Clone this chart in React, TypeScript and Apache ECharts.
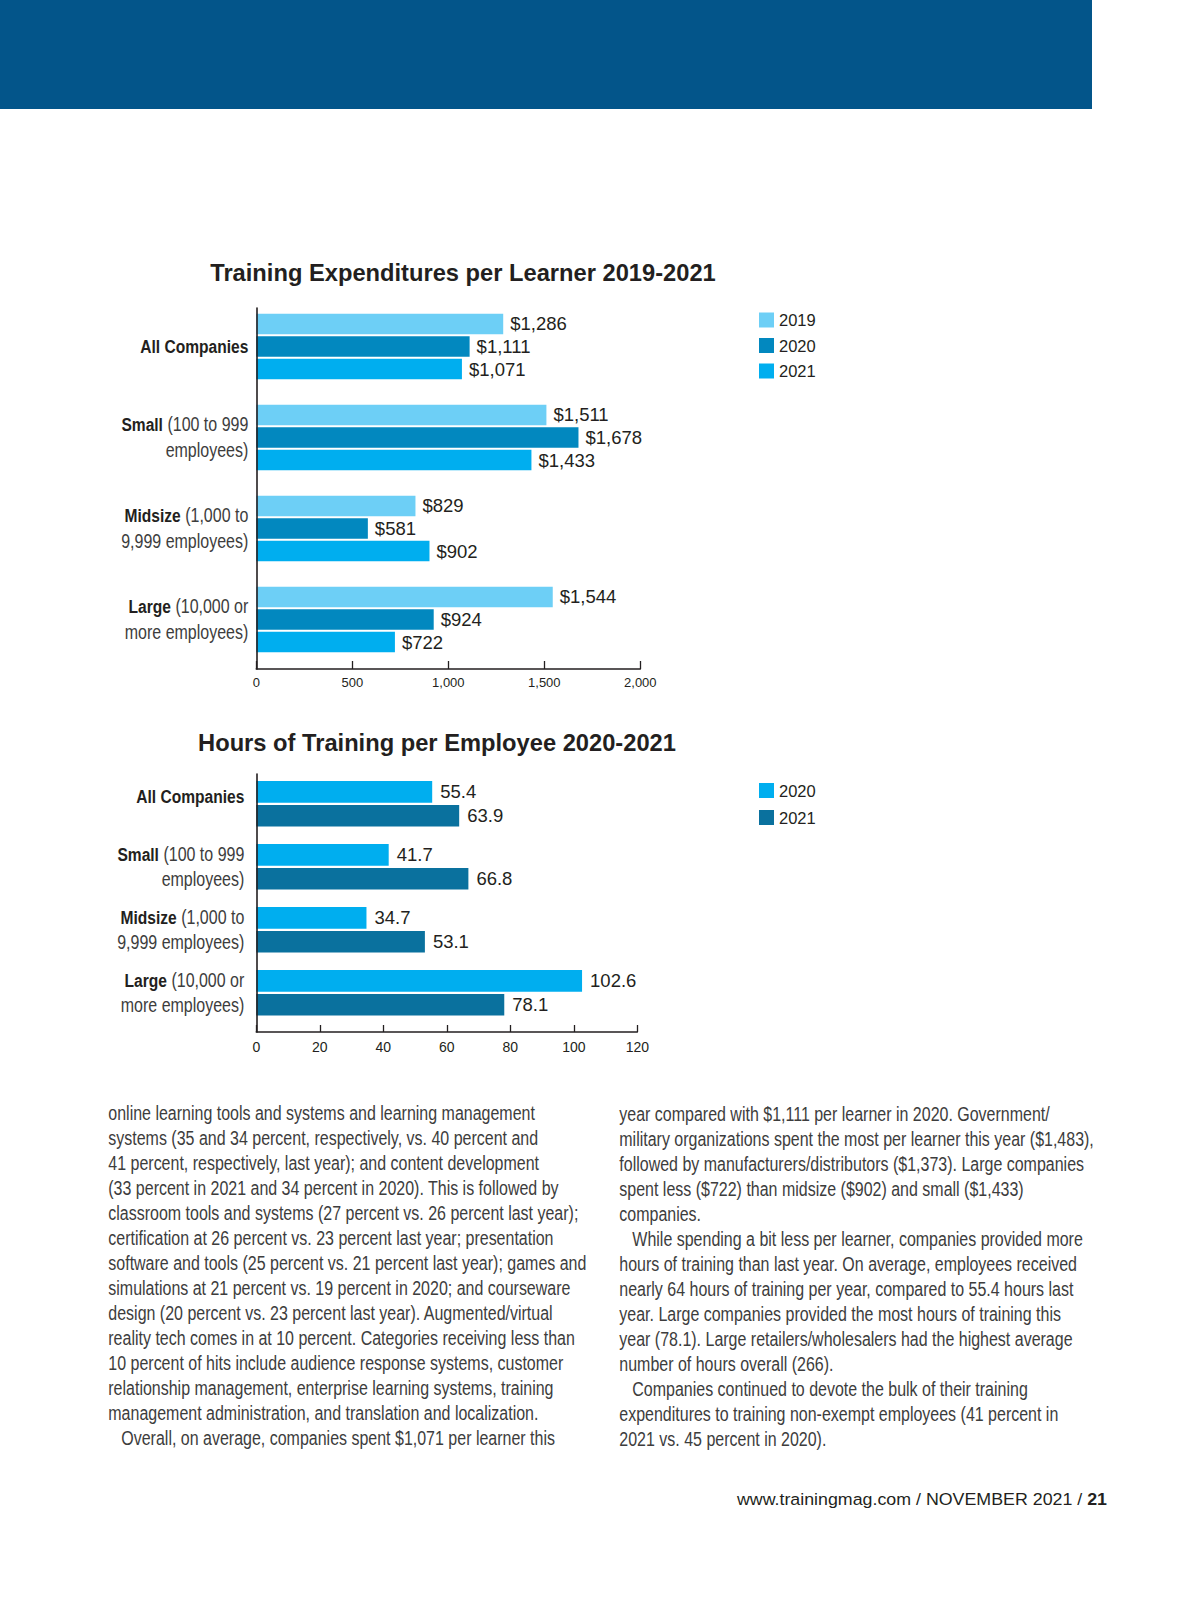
import React, { useEffect, useRef } from 'react';
import * as echarts from 'echarts';

// ---- data ----
const groupNames = ['All Companies', 'Small', 'Midsize', 'Large'];
const groupSizeLine1 = ['', '(100 to 999', '(1,000 to', '(10,000 or'];
const groupSizeLine2 = ['', 'employees)', '9,999 employees)', 'more employees)'];

const spendTitle = 'Training Expenditures per Learner 2019-2021';
const spendYears = ['2019', '2020', '2021'];
const spend2019 = [1286, 1511, 829, 1544];
const spend2020 = [1111, 1678, 581, 924];
const spend2021 = [1071, 1433, 902, 722];
const spendAxis = { min: 0, max: 2000, interval: 500 };

const hoursTitle = 'Hours of Training per Employee 2020-2021';
const hoursYears = ['2020', '2021'];
const hours2020 = [55.4, 41.7, 34.7, 102.6];
const hours2021 = [63.9, 66.8, 53.1, 78.1];
const hoursAxis = { min: 0, max: 120, interval: 20 };

const column1 = [
  'online learning tools and systems and learning management',
  'systems (35 and 34 percent, respectively, vs. 40 percent and',
  '41 percent, respectively, last year); and content development',
  '(33 percent in 2021 and 34 percent in 2020). This is followed by',
  'classroom tools and systems (27 percent vs. 26 percent last year);',
  'certification at 26 percent vs. 23 percent last year; presentation',
  'software and tools (25 percent vs. 21 percent last year); games and',
  'simulations at 21 percent vs. 19 percent in 2020; and courseware',
  'design (20 percent vs. 23 percent last year). Augmented/virtual',
  'reality tech comes in at 10 percent. Categories receiving less than',
  '10 percent of hits include audience response systems, customer',
  'relationship management, enterprise learning systems, training',
  'management administration, and translation and localization.',
  '\tOverall, on average, companies spent $1,071 per learner this',
];
const column2 = [
  'year compared with $1,111 per learner in 2020. Government/',
  'military organizations spent the most per learner this year ($1,483),',
  'followed by manufacturers/distributors ($1,373). Large companies',
  'spent less ($722) than midsize ($902) and small ($1,433)',
  'companies.',
  '\tWhile spending a bit less per learner, companies provided more',
  'hours of training than last year. On average, employees received',
  'nearly 64 hours of training per year, compared to 55.4 hours last',
  'year. Large companies provided the most hours of training this',
  'year (78.1). Large retailers/wholesalers had the highest average',
  'number of hours overall (266).',
  '\tCompanies continued to devote the bulk of their training',
  'expenditures to training non-exempt employees (41 percent in',
  '2021 vs. 45 percent in 2020).',
];
const footerText = 'www.trainingmag.com / NOVEMBER 2021 / ';
const footerPage = '21';

// ---- styles ----
const INK = '#231f20';
const SANS = '"Liberation Sans", Arial, Helvetica, sans-serif';
const NARROW_SCALE = 0.82;
const C2019 = '#6dcff6';
const C2020 = '#0288bf';
const C2021 = '#00aeef';
const CH2021 = '#0a719e';

const withCommas = (v: number) => String(v).replace(/\B(?=(\d{3})+(?!\d))/g, ',');

function catLabelText(index: number) {
  const l1 = groupSizeLine1[index];
  const l2 = groupSizeLine2[index];
  const name = groupNames[index];
  if (!l1) return `{b|${name}}`;
  return `{b|${name}} {l|${l1}}\n{l|${l2}}`;
}

function bodyLines(prefix: string, lines: string[], x: number, y0: number) {
  return lines.map((t, i) => {
    const indent = t.startsWith('\t');
    return {
      id: `${prefix}-${i}`,
      type: 'text',
      x: x + (indent ? 13 : 0),
      y: y0 + i * 25,
      scaleX: NARROW_SCALE,
      silent: true,
      style: {
        text: indent ? t.slice(1) : t,
        fontFamily: SANS,
        fontSize: 19.5,
        fill: '#3d3d3d',
        verticalAlign: 'middle',
        align: 'left',
      },
    };
  });
}

export default function App() {
  const ref = useRef<HTMLDivElement>(null);
  useEffect(() => {
    document.body.style.margin = '0';
    if (!ref.current) return;
    const chart = echarts.init(ref.current, undefined, { renderer: 'svg' });

    const frameAxisLine = { show: true, lineStyle: { color: INK, width: 1.6 } };

    const option: any = {
      animation: false,
      backgroundColor: '#ffffff',
      title: [
        {
          text: spendTitle, left: 463, top: 261, textAlign: 'center', padding: 0,
          textStyle: { fontFamily: SANS, fontWeight: 'bold', fontSize: 23.7, color: INK },
        },
        {
          text: hoursTitle, left: 437, top: 731, textAlign: 'center', padding: 0,
          textStyle: { fontFamily: SANS, fontWeight: 'bold', fontSize: 23.7, color: INK },
        },
      ],
      legend: [
        {
          data: spendYears, orient: 'vertical', left: 759, top: 311.5, padding: 0,
          itemWidth: 15, itemHeight: 15, itemGap: 8.5, icon: 'rect', selectedMode: false,
          textStyle: { fontFamily: SANS, fontSize: 16.5, color: INK },
        },
        {
          data: hoursYears.map((y) => 'Hours ' + y), orient: 'vertical', left: 759, top: 782, padding: 0,
          itemWidth: 15, itemHeight: 15, itemGap: 10, icon: 'rect', selectedMode: false,
          formatter: (n: string) => n.replace('Hours ', ''),
          textStyle: { fontFamily: SANS, fontSize: 16.5, color: INK },
        },
      ],
      grid: [
        { left: 256.3, top: 301, width: 384, height: 364 },
        { left: 256.3, top: 308, width: 384, height: 361 },
        { left: 256.3, top: 772.3, width: 381, height: 252 },
        { left: 256.3, top: 774, width: 381, height: 258 },
      ],
      xAxis: [
        { type: 'value', gridIndex: 0, min: spendAxis.min, max: spendAxis.max, show: false },
        {
          type: 'value', gridIndex: 1, min: spendAxis.min, max: spendAxis.max, interval: spendAxis.interval, z: 5,
          axisLine: frameAxisLine,
          axisTick: { show: true, inside: true, length: 8, lineStyle: { color: INK, width: 1.3 } },
          splitLine: { show: false },
          axisLabel: { margin: 7, fontFamily: SANS, fontSize: 13, color: INK, formatter: (v: number) => withCommas(v) },
        },
        { type: 'value', gridIndex: 2, min: hoursAxis.min, max: hoursAxis.max, show: false },
        {
          type: 'value', gridIndex: 3, min: hoursAxis.min, max: hoursAxis.max, interval: hoursAxis.interval, z: 5,
          axisLine: frameAxisLine,
          axisTick: { show: true, inside: true, length: 7, lineStyle: { color: INK, width: 1.3 } },
          splitLine: { show: false },
          axisLabel: { margin: 8, fontFamily: SANS, fontSize: 14, color: INK },
        },
      ],
      yAxis: [
        {
          type: 'category', gridIndex: 0, data: groupNames, inverse: true,
          axisLine: { show: false }, axisTick: { show: false }, axisLabel: { show: false },
        },
        {
          type: 'category', gridIndex: 1, data: groupNames, inverse: true, z: 5,
          axisLine: frameAxisLine, axisTick: { show: false }, axisLabel: { show: false },
        },
        {
          type: 'category', gridIndex: 2, data: groupNames, inverse: true,
          axisLine: { show: false }, axisTick: { show: false }, axisLabel: { show: false },
        },
        {
          type: 'category', gridIndex: 3, data: groupNames, inverse: true, z: 5,
          axisLine: frameAxisLine, axisTick: { show: false }, axisLabel: { show: false },
        },
      ],
      series: [
        ...[spend2019, spend2020, spend2021].map((d, i) => ({
          type: 'bar', name: spendYears[i], xAxisIndex: 0, yAxisIndex: 0, data: d,
          barWidth: 20.5, barGap: '10%',
          itemStyle: { color: [C2019, C2020, C2021][i] },
          label: {
            show: true, position: 'right', distance: 7, fontFamily: SANS, fontSize: 18.5, color: INK,
            formatter: (p: any) => '$' + withCommas(p.value),
          },
        })),
        ...[hours2020, hours2021].map((d, i) => ({
          type: 'bar', name: 'Hours ' + hoursYears[i], xAxisIndex: 2, yAxisIndex: 2, data: d,
          barWidth: 21.7, barGap: '10%',
          itemStyle: { color: [C2021, CH2021][i] },
          label: {
            show: true, position: 'right', distance: 8, fontFamily: SANS, fontSize: 18.5, color: INK,
            formatter: (p: any) => Number(p.value).toFixed(1),
          },
        })),
      ],
      graphic: [
        { id: 'header', type: 'rect', shape: { x: 0, y: 0, width: 1092, height: 109 }, style: { fill: '#03558a' }, silent: true },
        ...bodyLines('c1', column1, 108.3, 1113.3),
        ...bodyLines('c2', column2, 619.3, 1114),
        {
          id: 'footer', type: 'text', x: 1107, y: 1499, scaleX: 1.08, silent: true,
          style: {
            text: `{a|${footerText}}{b|${footerPage}}`,
            align: 'right', verticalAlign: 'middle',
            rich: {
              a: { fontFamily: SANS, fontSize: 16.5, fill: INK },
              b: { fontFamily: SANS, fontSize: 16.5, fontWeight: 'bold', fill: INK },
            },
          },
        },
      ],
    };
    chart.setOption(option);

    // category labels, condensed, placed at the category positions given by the axes
    const catLabels: any[] = [];
    const addCatLabels = (yAxisIndex: number, xRight: number, lineHeight: number, prefix: string, raiseFirst: boolean) => {
      groupNames.forEach((name, i) => {
        const py = chart.convertToPixel({ yAxisIndex } as any, name) as unknown as number;
        catLabels.push({
          id: `${prefix}-${i}`,
          type: 'text',
          x: xRight,
          y: py - (raiseFirst && !groupSizeLine1[i] ? 7 : 0),
          scaleX: NARROW_SCALE,
          silent: true,
          style: {
            text: catLabelText(i),
            align: 'right',
            verticalAlign: 'middle',
            fontFamily: SANS,
            fontSize: 19.5,
            fill: INK,
            rich: {
              b: { fontFamily: SANS, fontWeight: 'bold', fontSize: 19, fill: INK, lineHeight },
              l: { fontFamily: SANS, fontSize: 19.5, fill: '#3d3d3d', lineHeight },
            },
          },
        });
      });
    };
    addCatLabels(0, 248.3, 26, 'cat1', false);
    addCatLabels(2, 244.3, 25.3, 'cat2', true);
    chart.setOption({ graphic: catLabels });

    return () => chart.dispose();
  }, []);
  return <div ref={ref} style={{ width: 1200, height: 1613 }} />;
}
